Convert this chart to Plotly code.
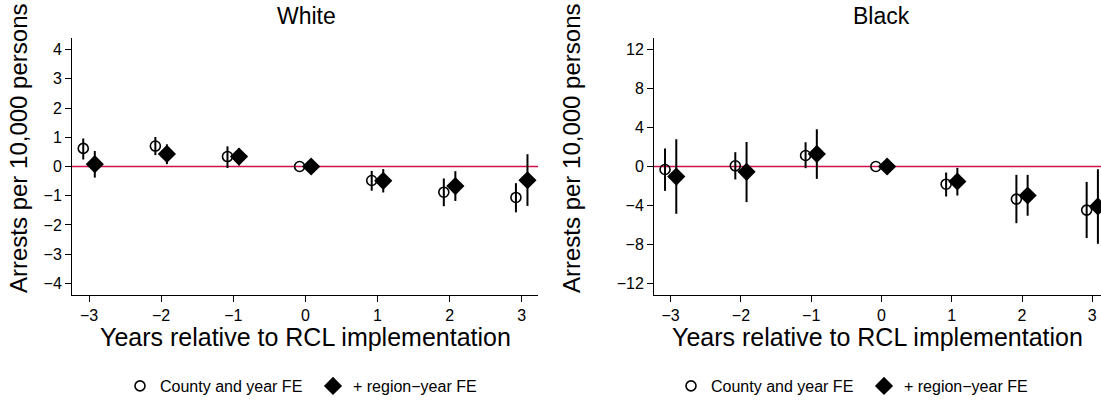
import plotly.graph_objects as go

# ---------------- data ----------------
years = [-3, -2, -1, 0, 1, 2, 3]

white_base = [0.62, 0.70, 0.34, 0.0, -0.48, -0.88, -1.06]
white_base_hi = [0.96, 1.01, 0.69, 0.0, -0.15, -0.41, -0.57]
white_base_lo = [0.24, 0.39, -0.05, 0.0, -0.83, -1.36, -1.57]

white_reg = [0.08, 0.43, 0.34, 0.0, -0.49, -0.67, -0.47]
white_reg_hi = [0.53, 0.76, 0.63, 0.0, -0.09, -0.16, 0.42]
white_reg_lo = [-0.38, 0.08, 0.04, 0.0, -0.89, -1.18, -1.35]

black_base = [-0.31, 0.07, 1.13, 0.0, -1.82, -3.35, -4.48]
black_base_hi = [1.85, 1.47, 2.49, 0.0, -0.62, -0.86, -1.58]
black_base_lo = [-2.50, -1.33, -0.17, 0.0, -3.08, -5.82, -7.35]

black_reg = [-1.03, -0.55, 1.29, 0.0, -1.54, -2.98, -4.10]
black_reg_hi = [2.80, 2.52, 3.83, 0.0, -0.14, -0.86, -0.28]
black_reg_lo = [-4.86, -3.66, -1.27, 0.0, -2.98, -5.06, -7.94]

panel_titles = ["White", "Black"]
series_names = ["County and year FE", "+ region\u2212year FE"]
x_title = "Years relative to RCL implementation"
y_title = "Arrests per 10,000 persons"
white_yticks = [-4, -3, -2, -1, 0, 1, 2, 3, 4]
black_yticks = [-12, -8, -4, 0, 4, 8, 12]

# ---------------- figure ----------------
W, H = 1101, 404
FONT = "Liberation Sans, Arial, Helvetica, sans-serif"
OFF = 0.08


def px_x(p):
    return p / W


def px_y(p):
    return (H - p) / H


fig = go.Figure()


def add_panel(xa, ya, legend, b, bhi, blo, r, rhi, rlo):
    fig.add_trace(go.Scatter(
        x=[v - OFF for v in years], y=b, mode="markers", name=series_names[0],
        xaxis=xa, yaxis=ya, legend=legend,
        marker=dict(symbol="circle-open", size=10, color="black", line=dict(width=1.6, color="black")),
        error_y=dict(type="data", symmetric=False,
                     array=[h - v for h, v in zip(bhi, b)],
                     arrayminus=[v - l for v, l in zip(b, blo)],
                     color="black", thickness=2, width=0),
    ))
    fig.add_trace(go.Scatter(
        x=[v + OFF for v in years], y=r, mode="markers", name=series_names[1],
        xaxis=xa, yaxis=ya, legend=legend,
        marker=dict(symbol="diamond", size=14, color="black"),
        error_y=dict(type="data", symmetric=False,
                     array=[h - v for h, v in zip(rhi, r)],
                     arrayminus=[v - l for v, l in zip(r, rlo)],
                     color="black", thickness=2, width=0),
    ))


add_panel("x", "y", "legend", white_base, white_base_hi, white_base_lo,
          white_reg, white_reg_hi, white_reg_lo)
add_panel("x2", "y2", "legend2", black_base, black_base_hi, black_base_lo,
          black_reg, black_reg_hi, black_reg_lo)

axis_common = dict(
    showgrid=False, zeroline=False, showline=True, linecolor="black", linewidth=1,
    ticks="outside", ticklen=6, tickcolor="black", tickwidth=1,
    tickfont=dict(family=FONT, size=16, color="black"),
)

y_dom = [px_y(295), px_y(38)]
fig.update_layout(
    width=W, height=H,
    margin=dict(l=0, r=0, t=0, b=0),
    paper_bgcolor="white", plot_bgcolor="white",
    font=dict(family=FONT, color="black"),
    xaxis=dict(domain=[px_x(72), px_x(538)], range=[-3.236, 3.226], tickvals=years,
               anchor="y", **axis_common),
    yaxis=dict(domain=y_dom, range=[-4.4, 4.4], tickvals=white_yticks,
               anchor="x", **axis_common),
    xaxis2=dict(domain=[px_x(654), 1.0], range=[-3.237, 3.124], tickvals=years,
                anchor="y2", **axis_common),
    yaxis2=dict(domain=y_dom, range=[-13.2, 13.2], tickvals=black_yticks,
                anchor="x2", **axis_common),
    legend=dict(orientation="h", x=px_x(120), y=px_y(386), xanchor="left", yanchor="middle",
                font=dict(family=FONT, size=16, color="black"), bgcolor="rgba(0,0,0,0)",
                entrywidth=148, entrywidthmode="pixels"),
    legend2=dict(orientation="h", x=px_x(671), y=px_y(386), xanchor="left", yanchor="middle",
                 font=dict(family=FONT, size=16, color="black"), bgcolor="rgba(0,0,0,0)",
                 entrywidth=148, entrywidthmode="pixels"),
    showlegend=True,
)

# zero reference lines
for xr, yr in (("x domain", "y"), ("x2 domain", "y2")):
    fig.add_shape(type="line", xref=xr, yref=yr, x0=0, x1=1, y0=0, y1=0,
                  line=dict(color="#D0104C", width=1.6), layer="below")

# titles and axis labels
ann = [
    dict(text=panel_titles[0], x=px_x(306), y=px_y(16), size=23, angle=0),
    dict(text=panel_titles[1], x=px_x(881), y=px_y(16), size=23, angle=0),
    dict(text=x_title, x=px_x(305), y=px_y(337), size=25, angle=0),
    dict(text=x_title, x=px_x(877), y=px_y(337), size=25, angle=0),
    dict(text=y_title, x=px_x(18), y=px_y(148), size=24, angle=-90),
    dict(text=y_title, x=px_x(571), y=px_y(148), size=24, angle=-90),
]
for a in ann:
    fig.add_annotation(text=a["text"], x=a["x"], y=a["y"], xref="paper", yref="paper",
                       xanchor="center", yanchor="middle", showarrow=False,
                       textangle=a["angle"], font=dict(family=FONT, size=a["size"], color="black"))

fig.write_html("out.html")
